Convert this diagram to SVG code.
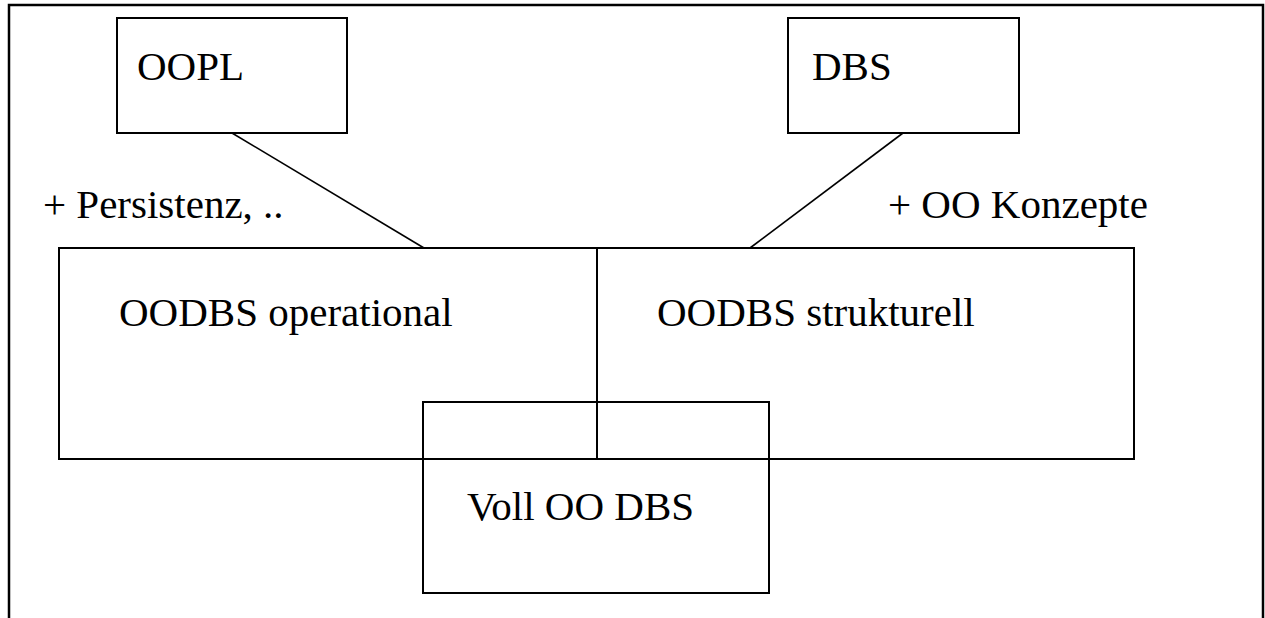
<svg xmlns="http://www.w3.org/2000/svg" width="1265" height="618" viewBox="0 0 1265 618">
  <style>
    .box { fill: none; stroke: #000; stroke-width: 2; }
    .frame { fill: none; stroke: #000; stroke-width: 2.5; }
    .conn { fill: none; stroke: #000; stroke-width: 1.6; }
    .lbl { font-family: "Liberation Serif", "Times New Roman", serif; font-size: 41px; fill: #000; }
  </style>
  <rect x="0" y="0" width="1265" height="618" fill="#fff"/>
  <path class="frame" d="M9,618 V5 H1263 V618"/>
  <g id="connectors">
    <line class="conn" x1="232" y1="133" x2="424" y2="248"/>
    <line class="conn" x1="903" y1="133" x2="750" y2="248"/>
  </g>
  <g id="oopl">
    <rect class="box" x="117" y="18" width="230" height="115"/>
    <text class="lbl" x="137" y="80">OOPL</text>
  </g>
  <g id="dbs">
    <rect class="box" x="788" y="18" width="231" height="115"/>
    <text class="lbl" x="812" y="80">DBS</text>
  </g>
  <g id="label-persistenz">
    <text class="lbl" x="43" y="218">+ Persistenz, ..</text>
  </g>
  <g id="label-konzepte">
    <text class="lbl" x="888" y="218">+ OO Konzepte</text>
  </g>
  <g id="oodbs-operational">
    <rect class="box" x="59" y="248" width="538" height="211"/>
    <text class="lbl" x="119" y="326">OODBS operational</text>
  </g>
  <g id="oodbs-strukturell">
    <rect class="box" x="597" y="248" width="537" height="211"/>
    <text class="lbl" x="657" y="326">OODBS strukturell</text>
  </g>
  <g id="voll-oo-dbs">
    <rect class="box" x="423" y="402" width="346" height="191"/>
    <text class="lbl" x="467" y="520">Voll OO DBS</text>
  </g>
</svg>
